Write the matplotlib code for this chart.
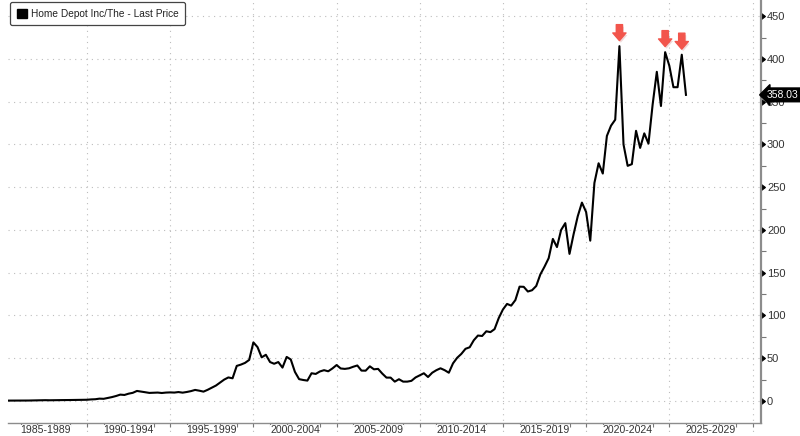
import pandas as pd
import matplotlib.pyplot as plt
import matplotlib.transforms as mtransforms
import matplotlib.markers as mmarkers
import matplotlib.patheffects as pe
from matplotlib.patches import Patch

plt.rcParams['font.family'] = ['Liberation Sans', 'DejaVu Sans']

# quarterly last price, Home Depot
price = [
    0.4, 0.4, 0.4, 0.5, 0.5, 0.5, 0.6, 0.7,
    0.8, 0.9, 0.8, 0.9, 0.9, 1.0, 1.0, 1.1, 1.2, 1.3, 1.5, 1.4,
    1.8, 2.0, 2.7, 2.5, 3.5, 4.5, 5.8, 7.4, 7.0, 8.5,
    9.5, 11.7, 11.0, 10.2, 9.4, 9.6, 9.8, 9.3, 9.8, 10.0,
    9.8, 10.4, 9.7, 10.5, 11.5, 12.9, 12.0, 10.9, 13.0, 15.5,
    18.0, 21.5, 25.0, 27.5, 26.5, 41.0, 42.5, 44.5, 48.0, 68.5,
    63.0, 51.0, 54.0, 45.5, 43.5, 45.5, 39.0, 51.5, 48.5, 34.0,
    25.5, 24.5, 23.8, 32.4, 31.6, 34.5, 36.0, 34.7, 38.0, 42.0,
    38.0, 37.5, 38.2, 40.0, 41.5, 35.5, 35.4, 40.5, 37.0, 37.5,
    32.0, 27.3, 27.3, 22.6, 25.4, 22.6, 22.6, 23.5, 27.5, 30.0,
    32.4, 28.0, 33.0, 36.0, 38.2, 36.0, 33.0, 44.0, 50.5, 55.0,
    61.0, 62.8, 71.0, 76.5, 76.0, 81.5, 80.5, 84.0, 97.0, 107.0,
    113.5, 111.5, 118.0, 133.7, 133.5, 128.0, 129.5, 134.5, 148.0, 157.0,
    167.0, 189.5, 180.0, 200.0, 208.0, 172.0, 195.0, 216.0, 232.0, 221.0,
    187.5, 255.0, 278.0, 266.0, 310.0, 322.0, 329.0, 415.0, 300.0, 275.0,
    277.0, 316.0, 296.0, 313.0, 301.0, 347.0, 385.0, 345.0, 408.0, 392.0,
    367.0, 367.0, 405.0, 358.03,
]
dates = pd.date_range('1985-03-31', periods=len(price), freq='QE')

series_label = 'Home Depot Inc/The - Last Price'
last_price = price[-1]
peak_idx = [147, 158, 162]   # the three marked highs

period_starts = list(range(1985, 2030, 5))
period_labels = ['%d-%d' % (y, y + 4) for y in period_starts]

fig = plt.figure(figsize=(8, 4.36), dpi=100)
ax = fig.add_axes([0.01, 0.03, 0.941, 0.97])

ax.plot(dates, price, color='black', lw=1.5, zorder=3)

ax.set_xlim(pd.Timestamp('1985-04-01'), pd.Timestamp('2030-07-01'))
ax.set_ylim(-25.7, 469)

# spines
for s in ['left', 'top']:
    ax.spines[s].set_visible(False)
ax.spines['right'].set_color('#8c8c8c')
ax.spines['right'].set_linewidth(1.6)
ax.spines['bottom'].set_color('#8c8c8c')
ax.spines['bottom'].set_linewidth(1.0)

# y axis on the right
ax.yaxis.tick_right()
ax.set_yticks(range(0, 451, 50))
ax.set_yticks(range(25, 451, 50), minor=True)
ax.tick_params(axis='y', which='major', labelsize=8, labelcolor='#333333', pad=1)
ax.tick_params(axis='y', which='minor', length=3.5, color='#777777', width=0.8)
for t in ax.yaxis.get_major_ticks():
    t.tick2line.set_marker(mmarkers.CARETRIGHTBASE)
    t.tick2line.set_markersize(4)
    t.tick2line.set_color('black')
for y in range(0, 451, 50):
    ax.axhline(y, color='#bdbdbd', lw=0.8, ls=(0, (1, 4)), zorder=1)

# x axis: yearly small ticks, period labels in between
ax.set_xticks([pd.Timestamp('%d-01-01' % y) for y in range(1986, 2031)], minor=True)
ax.set_xticks([])
ax.tick_params(axis='x', which='minor', length=3, color='#777777', width=0.8)
ax.set_xticklabels([], minor=True)
trans = mtransforms.blended_transform_factory(ax.transData, ax.transAxes)
for y in range(1990, 2031, 5):
    d = pd.Timestamp('%d-01-01' % y)
    ax.plot([d, d], [-0.04, 1], transform=trans, color='#bdbdbd', lw=0.8,
            ls=(0, (1, 4)), clip_on=False, zorder=1)
for y0, lab in zip(period_starts, period_labels):
    d = pd.Timestamp('%d-07-01' % (y0 + 2))
    ax.text(d, -0.017, lab, transform=trans, ha='center', va='center',
            fontsize=7.6, color='#333333', clip_on=False, zorder=4,
            bbox=dict(facecolor='white', edgecolor='none', pad=0.3))

# red arrows over the highs
for i in peak_idx:
    a = ax.annotate('', xy=(dates[i], price[i]), xytext=(0, 15.5), textcoords='offset points',
                    arrowprops=dict(arrowstyle='simple,head_length=0.55,head_width=0.95,tail_width=0.45',
                                    color='#f2554c', shrinkA=0, shrinkB=4), zorder=5)
    a.arrow_patch.set_path_effects([pe.SimplePatchShadow(offset=(1, -1.5), alpha=0.3,
                                                         shadow_rgbFace='#d08080'), pe.Normal()])

# last price tag on the axis
ytrans = mtransforms.blended_transform_factory(ax.transAxes, ax.transData)
ax.annotate('%.2f' % last_price, xy=(1.0, last_price), xycoords=ytrans,
            xytext=(4.5, 0), textcoords='offset points', ha='left', va='center',
            fontsize=7.5, color='white', annotation_clip=False, zorder=6,
            bbox=dict(boxstyle='larrow,pad=0.18', facecolor='black', edgecolor='black'))

handle = Patch(facecolor='black', edgecolor='black')
leg = ax.legend([handle], [series_label], loc='upper left', bbox_to_anchor=(0.0, 1.0),
                fontsize=7.3, handlelength=1.0, handleheight=1.0, handletextpad=0.4,
                borderpad=0.65, borderaxespad=0.2, fancybox=True, framealpha=1)
leg.get_frame().set_edgecolor('#444444')
leg.get_frame().set_linewidth(0.9)
for txt in leg.get_texts():
    txt.set_color('#222222')

fig.savefig('out.png', dpi=100)
